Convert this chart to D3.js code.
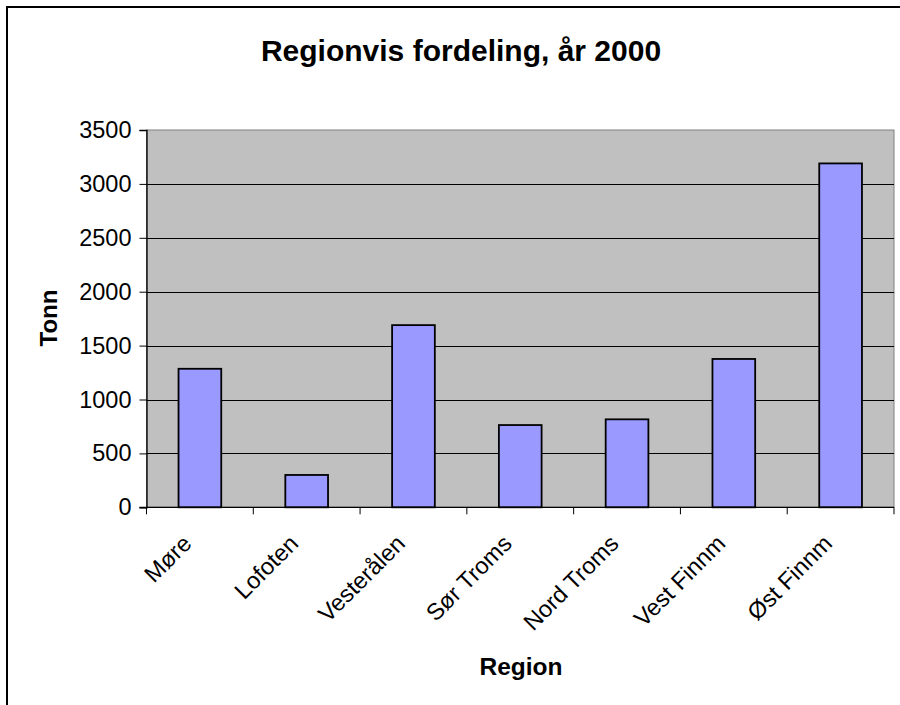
<!DOCTYPE html>
<html>
<head>
<meta charset="utf-8">
<script src="https://cdn.jsdelivr.net/npm/d3@7"></script>
<style>
  html, body { margin: 0; padding: 0; background: #fff; }
  svg { display: block; font-family: "Liberation Sans", Arial, sans-serif; }
</style>
</head>
<body>
<svg id="chart" width="900" height="705"></svg>
<script>
const categories = ["Møre", "Lofoten", "Vesterålen", "Sør Troms", "Nord Troms", "Vest Finnm", "Øst Finnm"];
const values = [1285, 300, 1690, 763, 816, 1376, 3190];
const yTicks = [0, 500, 1000, 1500, 2000, 2500, 3000, 3500];
const title = "Regionvis fordeling, år 2000";
const xTitle = "Region";
const yTitle = "Tonn";

const svg = d3.select("#chart");
const W = 900, H = 705;
const plot = { left: 146.5, right: 894, top: 130, bottom: 507.3 };

// outer frame
svg.append("rect")
  .attr("x", 7).attr("y", 7)
  .attr("width", W + 10).attr("height", H + 10)
  .attr("fill", "#fff").attr("stroke", "#000").attr("stroke-width", 2);

const x = d3.scaleBand().domain(categories)
  .range([plot.left, plot.right]).paddingInner(0.6).paddingOuter(0.3);
const xOuter = d3.scaleBand().domain(categories).range([plot.left, plot.right]);
const y = d3.scaleLinear().domain([0, 3500]).range([plot.bottom, plot.top]);

// plot background
svg.append("rect")
  .attr("x", plot.left).attr("y", plot.top)
  .attr("width", plot.right - plot.left).attr("height", plot.bottom - plot.top)
  .attr("fill", "#C0C0C0").attr("stroke", "#808080").attr("stroke-width", 1);

// gridlines
svg.append("g").selectAll("line")
  .data(yTicks.filter(t => t > 0 && t < 3500))
  .join("line")
  .attr("x1", plot.left).attr("x2", plot.right)
  .attr("y1", d => Math.round(y(d)) + 0.5).attr("y2", d => Math.round(y(d)) + 0.5)
  .attr("stroke", "#000").attr("stroke-width", 1);

// bars
svg.append("g").selectAll("rect")
  .data(values)
  .join("rect")
  .attr("x", (d, i) => x(categories[i]))
  .attr("y", d => y(d))
  .attr("width", x.bandwidth())
  .attr("height", d => y(0) - y(d))
  .attr("fill", "#9999FF").attr("stroke", "#000").attr("stroke-width", 1.8);

// y axis
const yAxis = d3.axisLeft(y).tickValues(yTicks).tickSize(7).tickPadding(8).tickFormat(d3.format("d"));
const gy = svg.append("g").attr("transform", `translate(${plot.left},0)`).call(yAxis);
gy.select(".domain").attr("stroke", "#000").attr("stroke-width", 1.3);
gy.selectAll(".tick line").attr("stroke", "#000");
gy.selectAll(".tick text").attr("font-size", 23.5).attr("fill", "#000")
  .attr("font-family", "Liberation Sans, Arial, sans-serif");

// x axis with ticks at category boundaries
const boundaries = categories.map(c => xOuter(c)).concat([plot.right]);
const gx = svg.append("g");
gx.append("line")
  .attr("x1", plot.left - 7).attr("x2", plot.right)
  .attr("y1", y(0)).attr("y2", y(0))
  .attr("stroke", "#000").attr("stroke-width", 1.3);
gx.selectAll("line.tk").data(boundaries).join("line").attr("class", "tk")
  .attr("x1", d => d).attr("x2", d => d)
  .attr("y1", y(0)).attr("y2", y(0) + 7)
  .attr("stroke", "#000").attr("stroke-width", 1);
gx.selectAll("text").data(categories).join("text")
  .attr("transform", d => `translate(${xOuter(d) + xOuter.bandwidth() / 2 - 7},545) rotate(-45)`)
  .attr("text-anchor", "end")
  .attr("font-size", 23.5).attr("fill", "#000")
  .text(d => d);

// titles
svg.append("text").attr("x", 461).attr("y", 61)
  .attr("text-anchor", "middle").attr("font-size", 30).attr("font-weight", "bold")
  .text(title);
svg.append("text").attr("x", 521).attr("y", 675)
  .attr("text-anchor", "middle").attr("font-size", 24.5).attr("font-weight", "bold")
  .text(xTitle);
svg.append("text").attr("transform", "translate(57,318) rotate(-90)")
  .attr("text-anchor", "middle").attr("font-size", 24).attr("font-weight", "bold")
  .text(yTitle);
</script>
</body>
</html>
